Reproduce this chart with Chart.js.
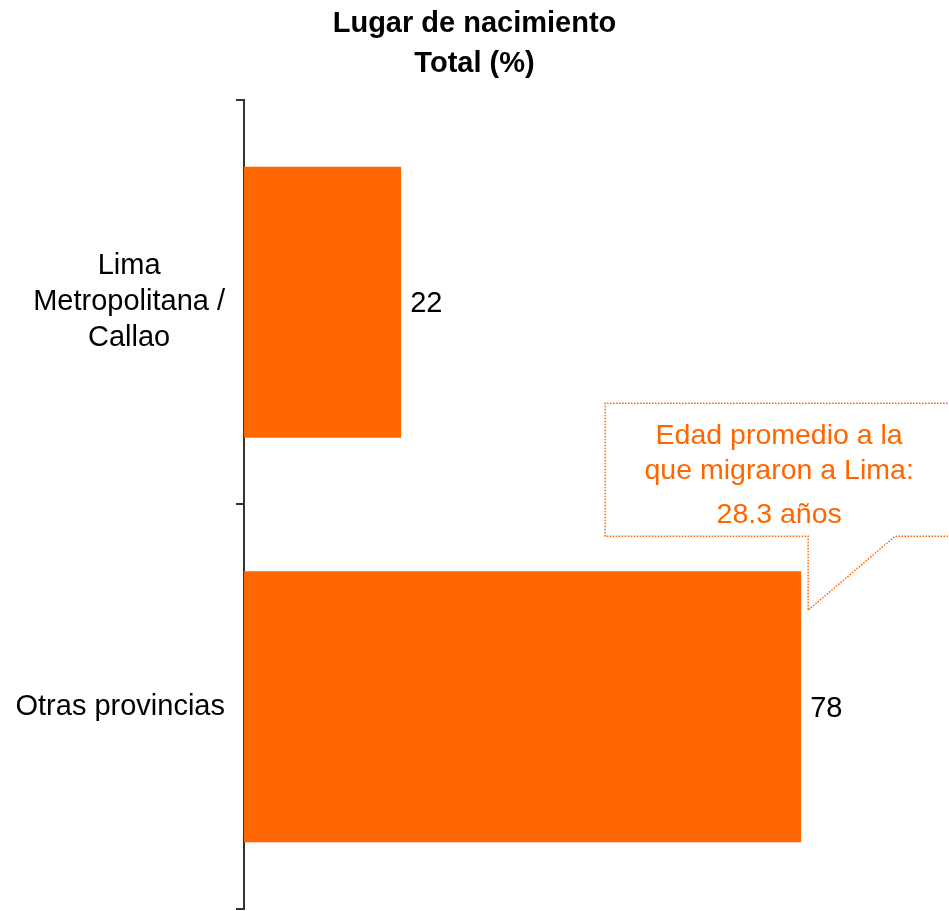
<!DOCTYPE html>
<html>
<head>
<meta charset="utf-8">
<script src="https://cdn.jsdelivr.net/npm/chart.js@4/dist/chart.umd.min.js"></script>
<style>
  html, body { margin: 0; padding: 0; background: #fff; }
  canvas { display: block; }
</style>
</head>
<body>
<canvas id="birthChart" width="949" height="911"></canvas>
<script>
const categories = [['Lima', 'Metropolitana /', 'Callao'], ['Otras provincias']];
const values = [22, 78];
const titleLines = ['Lugar de nacimiento', 'Total (%)'];
const calloutLines = ['Edad promedio a la', 'que migraron a Lima:', '28.3 años'];

const FONT = '"Liberation Sans", Arial, sans-serif';
const ORANGE = '#FF6600';

// category labels: right-aligned block, each line centred inside it
const categoryLabels = {
  id: 'categoryLabels',
  afterDraw(chart) {
    const ctx = chart.ctx;
    const scale = chart.scales.y;
    ctx.save();
    ctx.font = '29px ' + FONT;
    ctx.fillStyle = '#000';
    ctx.textAlign = 'center';
    ctx.textBaseline = 'middle';
    const lineH = 36;
    categories.forEach((lines, i) => {
      const y = scale.getPixelForValue(i);
      const blockW = Math.max(...lines.map(l => ctx.measureText(l).width));
      const cx = scale.right - 19 - blockW / 2;
      const y0 = y - (lines.length - 1) * lineH / 2;
      lines.forEach((l, k) => ctx.fillText(l, cx, y0 + k * lineH));
    });
    ctx.restore();
  }
};

// value next to the end of each bar
const valueLabels = {
  id: 'valueLabels',
  afterDatasetsDraw(chart) {
    const ctx = chart.ctx;
    const meta = chart.getDatasetMeta(0);
    ctx.save();
    ctx.font = '29px ' + FONT;
    ctx.fillStyle = '#000';
    ctx.textAlign = 'left';
    ctx.textBaseline = 'middle';
    meta.data.forEach((bar, i) => {
      ctx.fillText(String(values[i]), bar.x + 9, bar.y + 2);
    });
    ctx.restore();
  }
};

// dotted speech bubble pointing at the second bar
const callout = {
  id: 'callout',
  afterDraw(chart) {
    const ctx = chart.ctx;
    const bar = chart.getDatasetMeta(0).data[1];
    const barTop = bar.y - bar.height / 2;
    const tipX = bar.x + 7;
    const tipY = barTop + 39;
    const bottom = barTop - 35;
    const top = bottom - 133;
    const left = tipX - 203;
    const right = chart.width + 20;
    ctx.save();
    ctx.strokeStyle = ORANGE;
    ctx.lineWidth = 1.5;
    ctx.setLineDash([1.5, 1.5]);
    ctx.beginPath();
    ctx.moveTo(right, bottom);
    ctx.lineTo(tipX + 87, bottom);
    ctx.lineTo(tipX, tipY);
    ctx.lineTo(tipX, bottom);
    ctx.lineTo(left, bottom);
    ctx.lineTo(left, top);
    ctx.lineTo(right, top);
    ctx.stroke();

    ctx.setLineDash([]);
    ctx.fillStyle = ORANGE;
    ctx.font = '28.5px ' + FONT;
    ctx.textAlign = 'center';
    ctx.textBaseline = 'middle';
    const offsets = [33, 68, 112];
    calloutLines.forEach((l, k) => ctx.fillText(l, left + 174, top + offsets[k]));
    ctx.restore();
  }
};

new Chart(document.getElementById('birthChart'), {
  type: 'bar',
  data: {
    labels: categories,
    datasets: [{
      data: values,
      backgroundColor: ORANGE,
      borderWidth: 0,
      categoryPercentage: 1,
      barPercentage: 0.67
    }]
  },
  options: {
    indexAxis: 'y',
    responsive: false,
    animation: false,
    layout: { padding: { top: 0, bottom: 2, left: 0, right: 0 } },
    scales: {
      x: { display: false, min: 0, max: 98.7 },
      y: {
        grid: { drawOnChartArea: false, drawTicks: true, tickLength: 8, color: '#333', lineWidth: 2 },
        border: { display: true, color: '#333', width: 2 },
        ticks: { display: false },
        afterFit(scale) { scale.width = 244; }
      }
    },
    plugins: {
      legend: { display: false },
      tooltip: { enabled: false },
      title: {
        display: true,
        text: titleLines,
        color: '#000',
        font: { family: FONT, size: 29, weight: 'bold', lineHeight: 1.37 },
        padding: { top: 4, bottom: 16.5 }
      }
    }
  },
  plugins: [categoryLabels, valueLabels, callout]
});
</script>
</body>
</html>
